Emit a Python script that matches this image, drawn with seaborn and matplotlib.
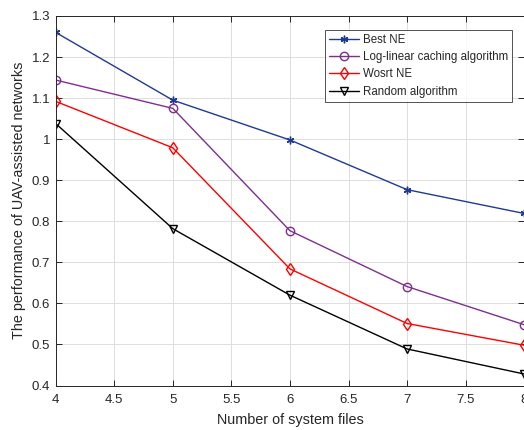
import matplotlib
matplotlib.use("Agg")
import matplotlib.pyplot as plt
import seaborn as sns
import pandas as pd
from matplotlib.ticker import FuncFormatter

files = [4, 5, 6, 7, 8]
best_ne = [1.26, 1.095, 0.998, 0.877, 0.819]
log_linear = [1.144, 1.075, 0.777, 0.641, 0.548]
worst_ne = [1.092, 0.979, 0.684, 0.551, 0.498]
random_alg = [1.038, 0.782, 0.620, 0.489, 0.428]

series_names = ["Best NE", "Log-linear caching algorithm", "Wosrt NE", "Random algorithm"]
series_vals = [best_ne, log_linear, worst_ne, random_alg]
colors = ["#1f3a93", "#7e2f8e", "#ff0000", "#000000"]
markers = [(6, 2, 0), "o", "d", "v"]
msizes = [5.5, 6, 6, 6]

rows = []
for name, vals in zip(series_names, series_vals):
    for x, v in zip(files, vals):
        rows.append({"files": x, "perf": v, "alg": name})
df = pd.DataFrame(rows)

sns.set_style("ticks")
plt.rcParams['font.family'] = ['Liberation Sans', 'DejaVu Sans']

fig = plt.figure(figsize=(5.24, 4.30), dpi=100)
ax = fig.add_axes([55.7/524, (430-385.5)/430, 468.5/524, (385.5-16)/430])

for name, c, m, ms in zip(series_names, colors, markers, msizes):
    sub = df[df["alg"] == name]
    sns.lineplot(data=sub, x="files", y="perf", ax=ax, color=c, marker=m,
                 markersize=ms, markerfacecolor="none", markeredgecolor=c,
                 markeredgewidth=1.0, linewidth=1.0, label=name)

ax.set_xlim(4, 8)
ax.set_ylim(0.4, 1.3)
ax.set_xticks([4, 4.5, 5, 5.5, 6, 6.5, 7, 7.5, 8])
ax.set_yticks([0.4, 0.5, 0.6, 0.7, 0.8, 0.9, 1.0, 1.1, 1.2, 1.3])
fmt = FuncFormatter(lambda v, p: f"{v:g}")
ax.xaxis.set_major_formatter(fmt)
ax.yaxis.set_major_formatter(fmt)
ax.grid(True, color="#dedede", linewidth=0.7)
ax.set_axisbelow(True)
for s in ax.spines.values():
    s.set_visible(True)
    s.set_color("#262626")
    s.set_linewidth(0.7)
ax.tick_params(direction="in", length=4, width=0.7, colors="#262626",
               labelsize=9.5, top=True, right=True)
ax.tick_params(axis="x", pad=6)
ax.tick_params(axis="y", pad=4)
ax.set_xlabel("Number of system files", fontsize=10.4, color="#262626", labelpad=5)
ax.set_ylabel("The performance of UAV-assisted networks", fontsize=10.4, color="#262626", labelpad=4)

leg = ax.legend(loc="upper right", bbox_to_anchor=(0.974, 0.962), fontsize=8.3,
                frameon=True, fancybox=False, edgecolor="#262626",
                borderpad=0.35, labelspacing=0.45, handlelength=2.6,
                handletextpad=0.3, borderaxespad=0.0)
leg.get_frame().set_linewidth(0.7)

fig.savefig("out.png", dpi=100)
